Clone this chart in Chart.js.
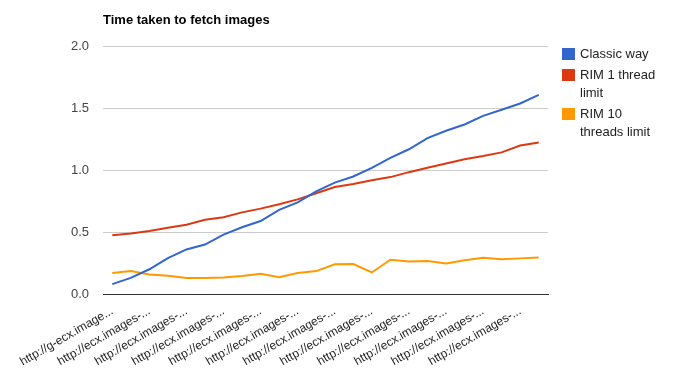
<!DOCTYPE html>
<html>
<head>
<meta charset="utf-8">
<script src="https://cdn.jsdelivr.net/npm/chart.js@4/dist/chart.umd.min.js"></script>
<style>
  body { margin: 0; background: #fff; font-family: Arial, "Liberation Sans", sans-serif; }
  #wrap { position: relative; width: 681px; height: 371px; }
  #legend { position: absolute; left: 562px; top: 45px; }
  .item { display: flex; align-items: flex-start; margin-bottom: 3px; }
  .box { width: 13px; height: 12px; margin-top: 3px; margin-right: 5px; flex: none; }
  .txt { width: 82px; font-size: 13px; line-height: 18px; color: #222; }
</style>
</head>
<body>
<div id="wrap">
  <canvas id="grafico" width="681" height="371"></canvas>
  <div id="legend"></div>
</div>
<script>
// datos
const urls = [
  "http://g-ecx.image...", "http://ecx.images-...", "http://ecx.images-...", "http://ecx.images-...",
  "http://ecx.images-...", "http://ecx.images-...", "http://ecx.images-...", "http://ecx.images-...",
  "http://ecx.images-...", "http://ecx.images-...", "http://ecx.images-...", "http://ecx.images-...",
  "http://ecx.images-...", "http://ecx.images-...", "http://ecx.images-...", "http://ecx.images-...",
  "http://ecx.images-...", "http://ecx.images-...", "http://ecx.images-...", "http://ecx.images-...",
  "http://ecx.images-...", "http://ecx.images-...", "http://ecx.images-...", "http://ecx.images-..."
];
const seriesNames = ["Classic way", "RIM 1 thread limit", "RIM 10 threads limit"];
const seriesColors = ["#3366cc", "#dc3912", "#ff9900"];
const classicWay = [0.08, 0.13, 0.20, 0.29, 0.36, 0.40, 0.48, 0.54, 0.59, 0.68, 0.74, 0.83,
                    0.90, 0.95, 1.02, 1.10, 1.17, 1.26, 1.32, 1.37, 1.44, 1.49, 1.54, 1.61];
const rim1Thread = [0.475, 0.49, 0.51, 0.535, 0.56, 0.60, 0.62, 0.66, 0.69, 0.725, 0.765, 0.815,
                    0.865, 0.89, 0.92, 0.945, 0.985, 1.02, 1.055, 1.09, 1.115, 1.145, 1.20, 1.225];
const rim10Threads = [0.17, 0.185, 0.158, 0.147, 0.13, 0.13, 0.133, 0.145, 0.163, 0.136, 0.169, 0.185,
                      0.24, 0.242, 0.174, 0.277, 0.263, 0.266, 0.247, 0.272, 0.293, 0.28, 0.288, 0.296];
const yTicks = [0, 0.5, 1.0, 1.5, 2.0];

const allSeries = [classicWay, rim1Thread, rim10Threads];

function cargaGrafico() {
    const datos = {
        labels: urls,
        datasets: allSeries.map((serie, i) => ({
            label: seriesNames[i],
            data: serie,
            borderColor: seriesColors[i],
            backgroundColor: seriesColors[i],
            borderWidth: 2,
            pointRadius: 0,
            tension: 0
        }))
    };

    const config = {
        type: "line",
        data: datos,
        options: {
            responsive: false,
            animation: false,
            layout: { padding: { left: 0, right: 133, top: 0, bottom: 0 } },
            scales: {
                x: {
                    offset: true,
                    grid: { display: false },
                    border: { color: "#333", width: 1 },
                    ticks: {
                        autoSkip: false,
                        maxRotation: 30,
                        minRotation: 30,
                        padding: 2,
                        color: "#222",
                        font: { family: "Arial, 'Liberation Sans'", size: 12 },
                        callback: (v, i) => (i % 2 === 0 ? urls[i] : "")
                    },
                    afterFit: (s) => { s.height = 77; }
                },
                y: {
                    min: 0,
                    max: 2,
                    afterBuildTicks: (s) => { s.ticks = yTicks.map(v => ({ value: v })); },
                    grid: {
                        drawTicks: false,
                        color: (c) => (c.tick && c.tick.value === 0 ? "#333" : "#cccccc")
                    },
                    border: { display: false },
                    ticks: {
                        padding: 14,
                        color: "#444",
                        font: { family: "Arial, 'Liberation Sans'", size: 13 },
                        callback: (v) => v.toFixed(1)
                    },
                    afterFit: (s) => { s.width = 103; }
                }
            },
            plugins: {
                legend: { display: false },
                tooltip: { enabled: false },
                title: {
                    display: true,
                    text: "Time taken to fetch images",
                    align: "start",
                    fullSize: false,
                    color: "#000",
                    font: { family: "Arial, 'Liberation Sans'", size: 13, weight: "bold" },
                    padding: { top: 13, bottom: 18 }
                }
            }
        }
    };

    const ctx = document.getElementById("grafico").getContext("2d");
    new Chart(ctx, config);

    // leyenda con texto partido en varias lineas
    const leyenda = document.getElementById("legend");
    seriesNames.forEach((nombre, i) => {
        const item = document.createElement("div");
        item.className = "item";
        item.innerHTML = '<div class="box" style="background:' + seriesColors[i] + '"></div>' +
                         '<div class="txt">' + nombre + '</div>';
        leyenda.appendChild(item);
    });
}

window.onload = cargaGrafico;
</script>
</body>
</html>
